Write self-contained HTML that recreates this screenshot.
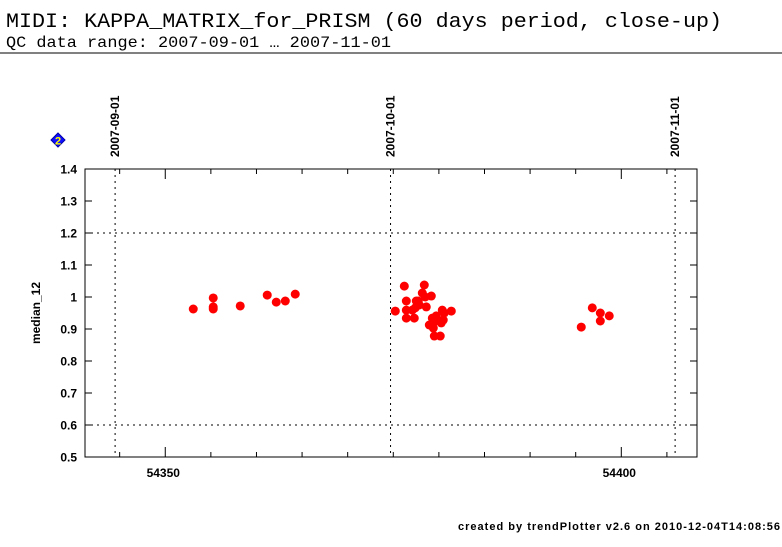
<!DOCTYPE html>
<html><head><meta charset="utf-8"><style>
body{margin:0;background:#fff;width:782px;height:542px;overflow:hidden;font-family:"Liberation Sans",sans-serif}
</style></head><body>
<svg id="c" width="782" height="542" xmlns="http://www.w3.org/2000/svg">
<text x="6" y="27" font-family="Liberation Mono,monospace" font-size="20" textLength="716" lengthAdjust="spacingAndGlyphs">MIDI: KAPPA_MATRIX_for_PRISM (60 days period, close-up)</text>
<text x="6" y="47" font-family="Liberation Mono,monospace" font-size="16" textLength="385" lengthAdjust="spacingAndGlyphs">QC data range: 2007-09-01 … 2007-11-01</text>
<line x1="0" y1="53" x2="782" y2="53" stroke="#000" stroke-width="1"/>
<g><polygon points="58,133 65,140 58,147 51,140" fill="#1010ff" stroke="#0000aa"/><text x="58" y="144.5" font-size="11" font-weight="bold" fill="#ff0" text-anchor="middle">2</text></g>
<text x="40" y="313" font-size="12" font-weight="bold" transform="rotate(-90 40 313)" text-anchor="middle">median_12</text>
<text x="780" y="530" font-size="11" font-weight="bold" text-anchor="end" textLength="322" lengthAdjust="spacing">created by trendPlotter v2.6 on 2010-12-04T14:08:56</text>
<g id="g"></g>
</svg>
<script>
const yTicks=[0.5,0.6,0.7,0.8,0.9,1,1.1,1.2,1.3,1.4];
const yGrid=[0.6,1.2];
const xMajor=[54350,54400];
const dateLabels=["2007-09-01","2007-10-01","2007-11-01"];
const dateMjd=[54344.5,54374.7,54405.9];
const mjd=[54353.07,54355.26,54355.26,54355.26,54358.22,54361.18,54362.17,54363.16,54364.25,
54375.22,54376.21,54376.43,54376.43,54376.43,54377.08,54377.30,54377.41,54377.52,54377.74,54377.85,54378.18,54378.40,54378.51,54378.62,54378.95,54379.17,54379.28,54379.39,54379.50,54379.71,54379.71,54380.15,54380.26,54380.37,54380.48,54380.59,54381.36,
54395.61,54396.82,54397.70,54397.70,54398.68];
const median12=[0.9625,0.997,0.969,0.9625,0.972,1.006,0.984,0.9875,1.009,
0.956,1.034,0.9875,0.959,0.934,0.959,0.934,0.966,0.9875,0.9875,0.975,1.0125,1.0375,1.0,0.969,0.9125,1.003,0.934,0.903,0.878,0.925,0.941,0.878,0.919,0.959,0.928,0.95,0.956,
0.906,0.966,0.95,0.925,0.941];
const L=85,R=697,T=169,B=457,X0=54341.2,X1=54408.3,Y0=0.5,Y1=1.4;
const xs=d=>L+(d-X0)/(X1-X0)*(R-L), ys=v=>B-(v-Y0)/(Y1-Y0)*(B-T);
const g=document.getElementById('g'),NS='http://www.w3.org/2000/svg';
function mk(t,a,txt){const e=document.createElementNS(NS,t);for(const k in a)e.setAttribute(k,a[k]);if(txt!==undefined)e.textContent=txt;g.appendChild(e);return e;}
let e=mk('rect',{x:L,y:T,width:R-L,height:B-T,fill:'none',stroke:'#000'});


yGrid.forEach(v=>{const l=mk('line',{x1:L,x2:R,y1:ys(v),y2:ys(v),stroke:'#000','stroke-dasharray':'2,4'});

});
dateMjd.forEach((d,i)=>{const l=mk('line',{x1:xs(d),x2:xs(d),y1:T,y2:B,stroke:'#000','stroke-dasharray':'2,4'});


const t=mk('text',{x:xs(d)+4,y:157,'font-size':12,'font-weight':'bold',transform:`rotate(-90 ${xs(d)+4} 157)`},dateLabels[i]);

});
yTicks.forEach(v=>{const y=ys(v);mk('line',{x1:L,x2:L+7,y1:y,y2:y,stroke:'#000'});mk('line',{x1:R-7,x2:R,y1:y,y2:y,stroke:'#000'});
const t=mk('text',{x:L-8,y:y+4.5,'font-size':12,'font-weight':'bold','text-anchor':'end'},String(v));

});
for(let d=54345;d<=54405;d+=5){const x=xs(d),len=xMajor.includes(d)?10:5;mk('line',{x1:x,x2:x,y1:B,y2:B-len,stroke:'#000'});mk('line',{x1:x,x2:x,y1:T,y2:T+len,stroke:'#000'});}
xMajor.forEach(d=>{const t=mk('text',{x:xs(d)-2,y:477,'font-size':12,'font-weight':'bold','text-anchor':'middle'},String(d));

});
mjd.forEach((d,i)=>{const c=mk('circle',{cx:xs(d),cy:ys(median12[i]),r:4.5,fill:'#ff0000'});

});
</script>
</body></html>
